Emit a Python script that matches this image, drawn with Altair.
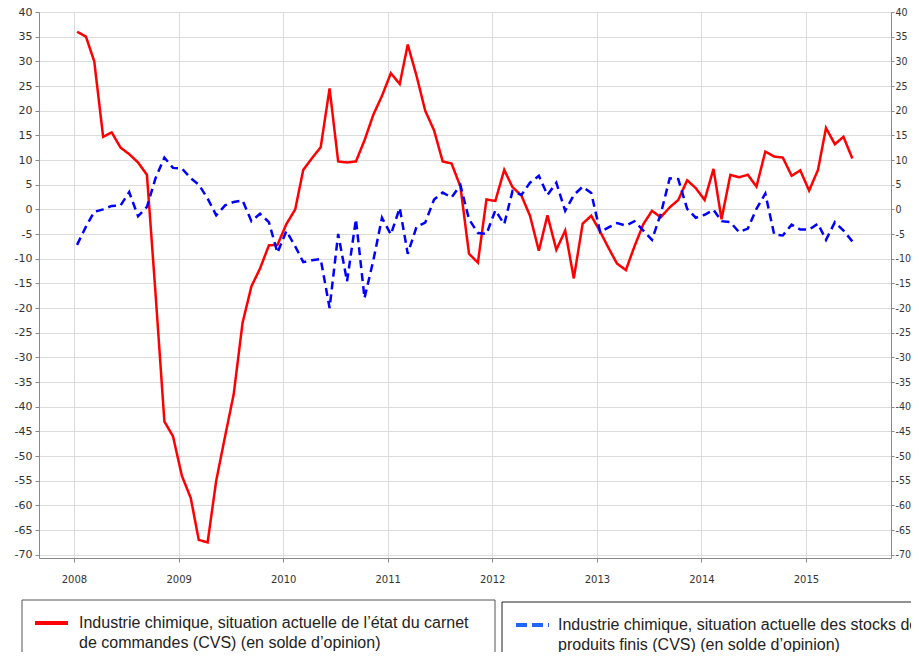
import altair as alt
import pandas as pd

# --- data (monthly, Jan 2008 - Jun 2015) ---
carnet = [
    36, 35, 30, 14.7, 15.6, 12.5, 11.2, 9.5, 7, -17, -43, -46,
    -54, -58.5, -67, -67.5, -55, -46, -37.5, -23, -15.6, -12, -7.3, -7.2,
    -3, 0, 8, 10.4, 12.6, 24.5, 9.7, 9.5, 9.7, 14, 19.2, 23,
    27.6, 25.4, 33.4, 27, 20, 16, 9.7, 9.3, 4.6, -9, -10.8, 2,
    1.7, 8, 4.5, 2.8, -1.3, -8.4, -1.2, -8.2, -4.3, -14, -2.9, -1.3,
    -4.5, -8, -11, -12.3, -7.5, -3, -0.3, -1.6, 0.4, 1.9, 5.9, 4.3,
    1.9, 8.2, -2, 7, 6.5, 7, 4.6, 11.7, 10.7, 10.5, 6.8, 7.9,
    3.8, 8, 16.5, 13.2, 14.7, 10.3,
]
stocks = [
    -7.2, -3.5, -0.5, 0, 0.7, 0.8, 3.5, -1.4, 0.5, 6.3, 10.5, 8.4,
    8.3, 6.3, 5, 2.2, -1.2, 0.8, 1.5, 1.8, -2.4, -0.9, -2.6, -8.8,
    -4.4, -7.5, -10.7, -10.3, -10.1, -20, -5, -14.6, -2, -18, -10.3, -1.7,
    -5.1, 0.3, -9, -3.5, -2.7, 2, 3.4, 2.4, 4.9, -2, -4.8, -5,
    -0.2, -3, 3.7, 2.9, 5.4, 6.8, 2.9, 5.4, -0.3, 2.9, 4.6, 3.3,
    -4.6, -3.6, -2.8, -3.3, -2.4, -4.3, -6.2, -0.9, 6.3, 6.1, 0.1, -1.7,
    -1.1, -0.1, -2.4, -2.6, -4.6, -3.9, 0.1, 3.2, -5.1, -5.3, -3.1, -4.1,
    -4.1, -2.9, -6.2, -2.6, -4.3, -6.5,
]
series_names = ["carnet", "stocks"]
years = list(range(2008, 2016))
y_ticks = list(range(-70, 45, 5))
legend_red = ["Industrie chimique, situation actuelle de l’état du carnet",
              "de commandes (CVS) (en solde d’opinion)"]
legend_blue = ["Industrie chimique, situation actuelle des stocks de",
               "produits finis (CVS) (en solde d’opinion)"]

dates = [f"{2008 + i // 12}-{i % 12 + 1:02d}-12" for i in range(len(carnet))]
df = pd.concat([
    pd.DataFrame({"date": dates, "value": carnet, "series": series_names[0]}),
    pd.DataFrame({"date": dates, "value": stocks, "series": series_names[1]}),
], ignore_index=True)

RED = "#ff0000"
BLUE = "#0000ff"
LEG_BLUE = "#1f66ff"
GRID = "#dcdcdc"
AXC = "#8a8a8a"
LAB = "#333333"
FONT = "DejaVu Sans"
CFONT = "'DejaVu Sans Condensed', 'DejaVu Sans'"
LFONT = "Liberation Sans"

xscale = alt.Scale(type="utc",
                   domain=[alt.DateTime(year=2007, month=9, date=1, utc=True),
                           alt.DateTime(year=2015, month=10, date=25, utc=True)])
yscale = alt.Scale(domain=[-70.67, 40], nice=False, zero=False)

x_axis = alt.Axis(values=[alt.DateTime(year=y, month=1, date=1, utc=True) for y in years],
                  labelExpr="utcFormat(datum.value, '%Y')", title=None,
                  grid=True, gridColor=GRID, gridWidth=1,
                  domainColor=AXC, tickColor=AXC, tickSize=4,
                  labelFont=FONT, labelFontSize=10, labelColor=LAB, labelPadding=12)

y_left = alt.Axis(values=y_ticks, labelExpr="'' + datum.value", title=None, orient="left",
                  grid=True, gridColor=GRID, gridWidth=1,
                  domainColor=AXC, tickColor=AXC, tickSize=4,
                  labelFont=FONT, labelFontSize=11, labelColor=LAB, labelPadding=3)
y_right = alt.Axis(values=y_ticks, labelExpr="'' + datum.value", title=None, orient="right",
                   grid=False, domainColor=AXC, tickColor=AXC, tickSize=3,
                   labelFont=CFONT, labelFontSize=10.5, labelColor=LAB, labelPadding=1)

lines = alt.Chart(df).mark_line(strokeWidth=2.5).encode(
    x=alt.X("date:T", scale=xscale, axis=x_axis),
    y=alt.Y("value:Q", scale=yscale, axis=y_left),
    color=alt.Color("series:N", scale=alt.Scale(domain=series_names, range=[RED, BLUE]), legend=None),
    strokeDash=alt.StrokeDash("series:N", scale=alt.Scale(domain=series_names, range=[[1, 0], [8, 5]]), legend=None),
    order=alt.Order("date:T"),
)

right_axis = alt.Chart(df).mark_line(opacity=0).encode(
    x=alt.X("date:T", scale=xscale),
    y=alt.Y("value:Q", scale=yscale, axis=y_right),
    detail="series:N",
)

one = pd.DataFrame({"k": [0]})

box1 = alt.Chart(one).mark_rect(filled=False, stroke="#555", strokeWidth=1).encode(
    x=alt.value(-17), x2=alt.value(456), y=alt.value(588), y2=alt.value(720))
box2 = alt.Chart(one).mark_rect(filled=False, stroke="#222", strokeWidth=1).encode(
    x=alt.value(463), x2=alt.value(960), y=alt.value(590), y2=alt.value(720))
sym1 = alt.Chart(one).mark_rule(color=RED, strokeWidth=4).encode(
    x=alt.value(-4), x2=alt.value(29), y=alt.value(611))
sym2 = alt.Chart(one).mark_rule(color=LEG_BLUE, strokeWidth=4, strokeDash=[11, 5]).encode(
    x=alt.value(477), x2=alt.value(510), y=alt.value(613))


def txt(s, x, y):
    return alt.Chart(one).mark_text(align="left", baseline="middle", font=LFONT,
                                    fontSize=16, color="#222").encode(
        x=alt.value(x), y=alt.value(y), text=alt.value(s))


chart = alt.layer(
    lines, right_axis,
    box1, box2, sym1, sym2,
    txt(legend_red[0], 40, 611), txt(legend_red[1], 40, 631),
    txt(legend_blue[0], 519, 613), txt(legend_blue[1], 519, 633),
).resolve_scale(y="independent").properties(
    width=852, height=546,
    padding={"left": 31, "right": 20, "top": 4, "bottom": 94},
    autosize=alt.AutoSizeParams(type="none"),
).configure_view(stroke=None).configure(background="white")

chart.save("out.html", embed_options={"renderer": "svg", "actions": False})
